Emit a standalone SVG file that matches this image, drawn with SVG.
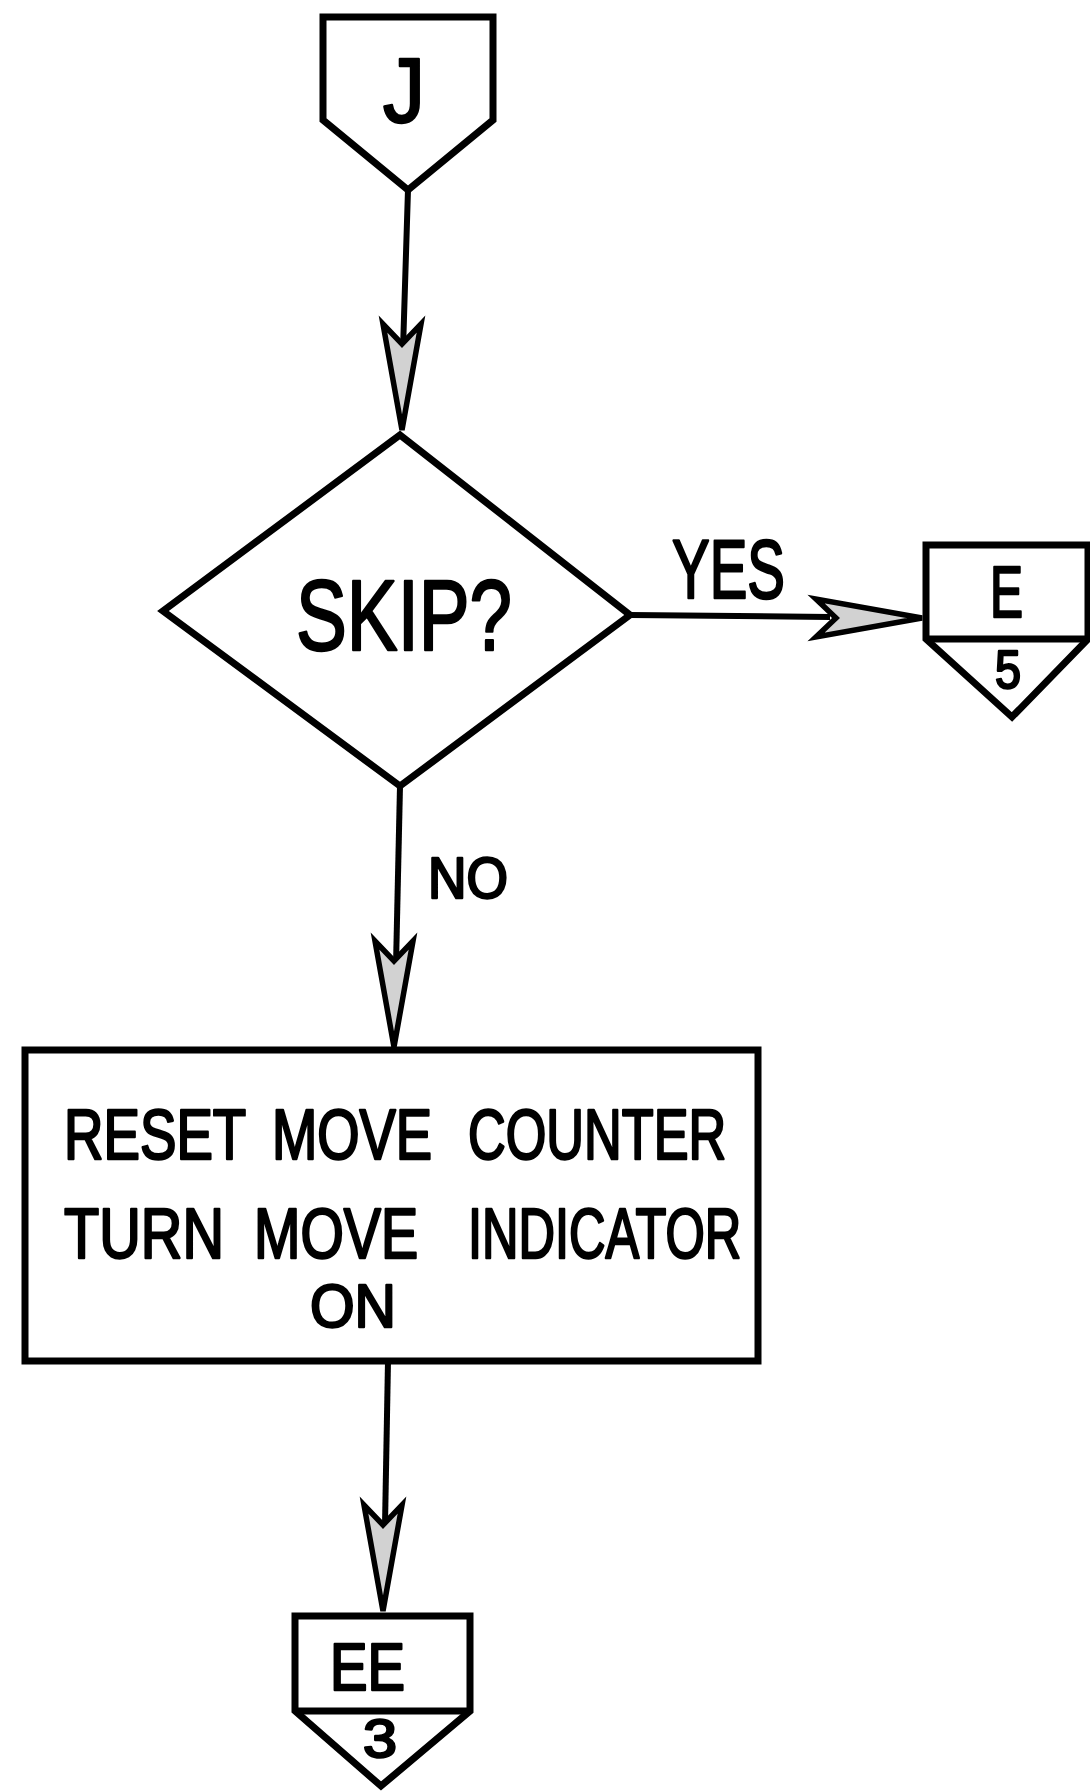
<svg xmlns="http://www.w3.org/2000/svg" width="1090" height="1792" viewBox="0 0 1090 1792">
  <defs>
    <style>
      .shape { fill: #ffffff; stroke: #000000; stroke-width: 7; stroke-linejoin: miter; }
      .rule { fill: none; stroke: #000000; stroke-width: 7; }
      .wire { fill: none; stroke: #000000; stroke-width: 6; stroke-linecap: butt; }
      .lbl { font-family: "Liberation Sans", "DejaVu Sans", sans-serif; fill: #000000; stroke: #000000; stroke-width: 2.5; stroke-linejoin: round; }
      .head { fill: #d2d2d2; stroke: #000000; stroke-width: 5.5; stroke-linejoin: miter; }
    </style>
    <!-- barbed arrowhead, tip at the origin, pointing along +y -->
    <path id="arrowhead" class="head" d="M0,0 L-19,-106 L0,-86 L19,-106 Z"/>
  </defs>

  <rect x="0" y="0" width="1090" height="1792" fill="#ffffff"/>

  <!-- off-page connector J -->
  <g id="node-j">
    <path class="shape" d="M323,17 L493,17 L493,120 L408,190 L323,120 Z"/>
    <text class="lbl" x="383" y="122" font-size="90" textLength="42" lengthAdjust="spacingAndGlyphs">J</text>
  </g>

  <!-- decision -->
  <g id="node-skip">
    <path class="shape" d="M400,435 L630,615 L400,786 L163,611 Z"/>
    <text class="lbl" x="296" y="650" font-size="100" textLength="216" lengthAdjust="spacingAndGlyphs">SKIP?</text>
  </g>

  <!-- off-page connector E / 5 -->
  <g id="node-e5">
    <path class="shape" d="M926,545 L1088,545 L1088,639 L1012,717 L926,639 Z"/>
    <line class="rule" x1="926" y1="639" x2="1088" y2="639"/>
    <text class="lbl" x="990" y="617" font-size="72" textLength="33" lengthAdjust="spacingAndGlyphs">E</text>
    <text class="lbl" x="995" y="688" font-size="54" textLength="26" lengthAdjust="spacingAndGlyphs">5</text>
  </g>

  <!-- process box: each word set on its own, narrowed with a horizontal scale -->
  <g id="node-reset">
    <rect class="shape" x="25" y="1050" width="733" height="311"/>
    <g font-size="70">
      <text class="lbl" transform="translate(64,1159) scale(0.781,1)">RESET</text>
      <text class="lbl" transform="translate(272,1159) scale(0.777,1)">MOVE</text>
      <text class="lbl" transform="translate(468,1159) scale(0.746,1)">COUNTER</text>
      <text class="lbl" transform="translate(64,1258) scale(0.823,1)">TURN</text>
      <text class="lbl" transform="translate(254,1258) scale(0.796,1)">MOVE</text>
      <text class="lbl" transform="translate(468,1258) scale(0.722,1)">INDICATOR</text>
    </g>
    <text class="lbl" x="310" y="1327" font-size="62" textLength="86" lengthAdjust="spacingAndGlyphs">ON</text>
  </g>

  <!-- off-page connector EE / 3 -->
  <g id="node-ee3">
    <path class="shape" d="M295,1616 L470,1616 L470,1711 L381,1786 L295,1711 Z"/>
    <line class="rule" x1="295" y1="1711" x2="470" y2="1711"/>
    <text class="lbl" x="330" y="1690" font-size="66" textLength="75" lengthAdjust="spacingAndGlyphs">EE</text>
    <text class="lbl" x="363" y="1757" font-size="54" textLength="34" lengthAdjust="spacingAndGlyphs">3</text>
  </g>

  <!-- connectors -->
  <g id="connectors">
    <line class="wire" x1="408" y1="190" x2="403" y2="350"/>
    <use href="#arrowhead" transform="translate(402,430)"/>

    <line class="wire" x1="630" y1="615" x2="830" y2="617"/>
    <use href="#arrowhead" transform="translate(922,618) rotate(-90)"/>
    <text class="lbl" x="672" y="598" font-size="84" textLength="113" lengthAdjust="spacingAndGlyphs">YES</text>

    <line class="wire" x1="400" y1="786" x2="396" y2="965"/>
    <use href="#arrowhead" transform="translate(394,1047)"/>
    <text class="lbl" x="428" y="898" font-size="57" textLength="80" lengthAdjust="spacingAndGlyphs">NO</text>

    <line class="wire" x1="388" y1="1361" x2="385" y2="1525"/>
    <use href="#arrowhead" transform="translate(383,1611)"/>
  </g>
</svg>
